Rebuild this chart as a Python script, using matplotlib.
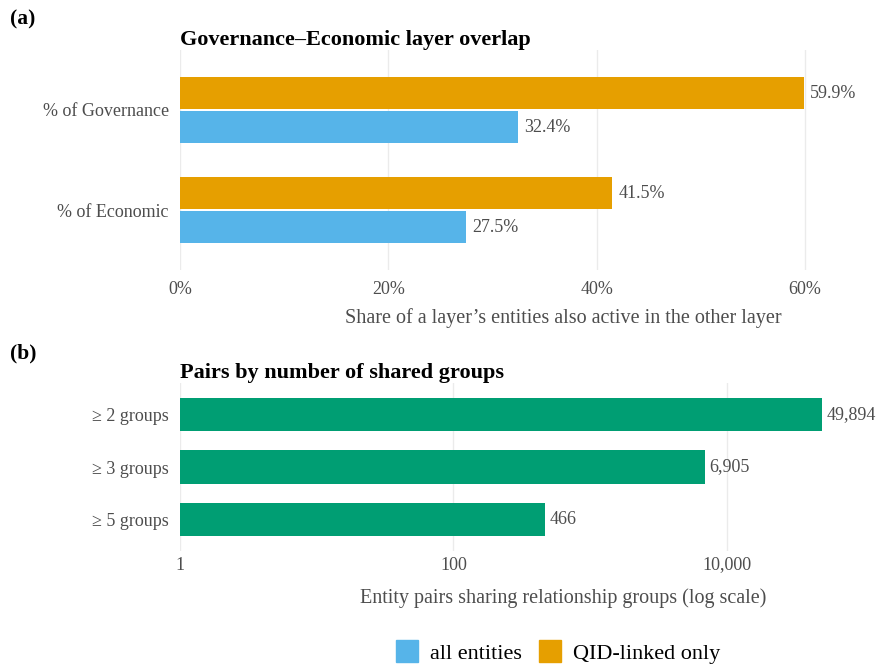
import numpy as np
import matplotlib.pyplot as plt
from matplotlib.patches import Patch
from matplotlib.ticker import FuncFormatter, FixedLocator

plt.rcParams['font.family'] = ['Liberation Serif', 'DejaVu Serif']

# panel (a) data
layers = ['% of Economic', '% of Governance']
all_entities = [0.275, 0.324]
qid_linked = [0.415, 0.599]

# panel (b) data
group_labels = ['\u2265 5 groups', '\u2265 3 groups', '\u2265 2 groups']
pair_counts = [466, 6905, 49894]

C_ALL = '#56B4E9'
C_QID = '#E69F00'
C_PAIR = '#009E73'
GREY = '#4d4d4d'
GRID = '#ebebeb'

fig = plt.figure(figsize=(8.81, 6.66), dpi=100)
W, H = 881, 666
left, right = 180, 867
xlab_center = (563 - left) / (right - left)


def add_axes(top, bottom):
    return fig.add_axes([left / W, 1 - bottom / H, (right - left) / W, (bottom - top) / H])


def style(ax):
    for s in ax.spines.values():
        s.set_visible(False)
    ax.tick_params(axis='both', length=0, colors=GREY, labelsize=13)
    ax.grid(axis='x', color=GRID, linewidth=1.0)
    ax.set_axisbelow(True)


# ---- panel (a)
ax1 = add_axes(50, 270)
style(ax1)
y = np.arange(len(layers))
h = 0.32
ax1.barh(y + 0.17, qid_linked, height=h, color=C_QID)
ax1.barh(y - 0.17, all_entities, height=h, color=C_ALL)
for yi, v in zip(y + 0.17, qid_linked):
    ax1.annotate(f'{v * 100:.1f}%', (v, yi), xytext=(4.5, 0), textcoords='offset points',
                 va='center', ha='left', color=GREY, fontsize=13)
for yi, v in zip(y - 0.17, all_entities):
    ax1.annotate(f'{v * 100:.1f}%', (v, yi), xytext=(4.5, 0), textcoords='offset points',
                 va='center', ha='left', color=GREY, fontsize=13)
ax1.set_yticks(y, layers)
ax1.set_ylim(-0.6, 1.6)
ax1.set_xlim(0, 0.6 * (right - left) / 625)
ax1.set_xticks([0, 0.2, 0.4, 0.6])
ax1.xaxis.set_major_formatter(FuncFormatter(lambda v, p: f'{v * 100:.0f}%'))
ax1.tick_params(axis='x', pad=8)
ax1.tick_params(axis='y', pad=8)
ax1.set_xlabel('Share of a layer\u2019s entities also active in the other layer',
               fontsize=14.5, color=GREY)
ax1.xaxis.set_label_coords(xlab_center, -(318 - 270) / 220, transform=ax1.transAxes)
ax1.xaxis.label.set_va('center')
ax1.set_title('Governance\u2013Economic layer overlap', loc='left', fontsize=16,
              fontweight='bold', pad=3)

# ---- panel (b)
ax2 = add_axes(383, 551)
style(ax2)
yb = np.arange(len(group_labels))
ax2.barh(yb, np.array(pair_counts) - 1, left=1, height=0.63, color=C_PAIR)
ax2.set_xscale('log')
for yi, v in zip(yb, pair_counts):
    ax2.annotate(f'{v:,}', (v, yi), xytext=(3.5, 0), textcoords='offset points',
                 va='center', ha='left', color=GREY, fontsize=13)
ax2.set_yticks(yb, group_labels)
ax2.set_ylim(-0.6, 2.6)
ax2.set_xlim(1, 10 ** ((right - left) / 136.7))
ax2.xaxis.set_major_locator(FixedLocator([1, 100, 10000]))
ax2.xaxis.set_minor_locator(FixedLocator([]))
ax2.xaxis.set_major_formatter(FuncFormatter(lambda v, p: f'{v:,.0f}'))
ax2.tick_params(axis='x', pad=4)
ax2.tick_params(axis='y', pad=8)
ax2.set_xlabel('Entity pairs sharing relationship groups (log scale)',
               fontsize=14.5, color=GREY)
ax2.xaxis.set_label_coords(xlab_center, -(598 - 551) / 168, transform=ax2.transAxes)
ax2.xaxis.label.set_va('center')
ax2.set_title('Pairs by number of shared groups', loc='left', fontsize=16,
              fontweight='bold', pad=3)

fig.text(10 / W, 1 - 19 / H, '(a)', fontsize=15.5, fontweight='bold', va='center')
fig.text(10 / W, 1 - 353 / H, '(b)', fontsize=15.5, fontweight='bold', va='center')

handles = [Patch(color=C_ALL, label='all entities'), Patch(color=C_QID, label='QID-linked only')]
fig.legend(handles=handles, loc='center', bbox_to_anchor=(558 / W, 1 - 652 / H), ncol=2,
           frameon=False, fontsize=16, handlelength=1.0, handleheight=1.1,
           handletextpad=0.5, columnspacing=0.8)

fig.savefig('out.png', dpi=100)
